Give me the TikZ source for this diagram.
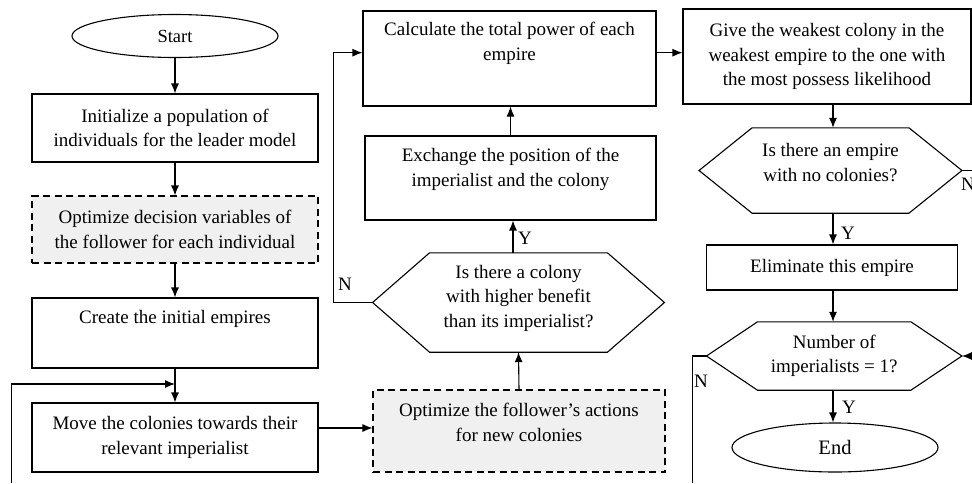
\documentclass[tikz,border=0pt]{standalone}
\usepackage{fontspec}
\setmainfont{Liberation Serif}
\usetikzlibrary{arrows.meta,shapes.geometric}
\newcommand\hexout[2]{\draw[ln] (#1.west) -- ([xshift=#2]#1.north west) -- ([xshift=-#2]#1.north east) -- (#1.east) -- ([xshift=-#2]#1.south east) -- ([xshift=#2]#1.south west) -- cycle;}
\begin{document}
\begin{tikzpicture}[x=1pt,y=-1pt,
  every node/.style={font=\fontsize{19}{24.5}\selectfont, inner sep=0pt},
  ln/.style={line width=1.1pt, draw=black},
  box/.style={ln, draw, rectangle, align=center},
  dbox/.style={box, dash pattern=on 7pt off 4.5pt, fill=black!6},
  txt/.style={align=center},
  oval/.style={ln, draw, ellipse},
  hexb/.style={rectangle, align=center},
  arr/.style={ln, -{Latex[length=10pt,width=8pt]}},
  lab/.style={}
]
\useasboundingbox (0,0) rectangle (972,483);

% left column
\node[oval, minimum width=206pt, minimum height=43pt, font=\fontsize{18.5}{22}\selectfont] (start) at (175,36) {Start};
\node[box, minimum width=286pt, minimum height=68pt] (init) at (175,128) {Initialize a population of\\individuals for the leader model};
\node[dbox, minimum width=286pt, minimum height=67pt] (opt1) at (175,229.5) {Optimize decision variables of\\the follower for each individual};
\node[box, minimum width=286pt, minimum height=70pt] (create) at (175,333) {};
\node[txt] (createt) at (175,319) {Create the initial empires};
\node[box, minimum width=286pt, minimum height=69pt] (move) at (175,437.5) {Move the colonies towards their\\relevant imperialist};

% middle column
\node[dbox, minimum width=292pt, minimum height=82pt] (opt2) at (519,431) {};
\node[txt] (opt2t) at (519,422.5) {Optimize the follower’s actions\\for new colonies};
\node[hexb, minimum width=291.5pt, minimum height=99pt] (q1) at (518.5,302.5) {};
\node[txt] (q1t) at (518.5,298) {Is there a colony\\with higher benefit\\than its imperialist?};
\hexout{q1}{57}
\node[box, minimum width=291pt, minimum height=84pt] (exch) at (510.5,178) {};
\node[txt] (excht) at (510.5,169.5) {Exchange the position of the\\imperialist and the colony};
\node[box, minimum width=293pt, minimum height=95pt] (calc) at (509.5,58.5) {};
\node[txt] (calct) at (509.5,43.5) {Calculate the total power of each\\empire};

% right column
\node[box, minimum width=288pt, minimum height=95pt] (give) at (827,56.5) {Give the weakest colony in the\\weakest empire to the one with\\the most possess likelihood};
\node[hexb, minimum width=262.5pt, minimum height=85pt] (q2) at (830.5,170.5) {};
\node[txt] (q2t) at (830.5,162.5) {Is there an empire\\with no colonies?};
\hexout{q2}{53}
\node[box, minimum width=251.5pt, minimum height=45pt] (elim) at (832,267.5) {Eliminate this empire};
\node[hexb, minimum width=255pt, minimum height=68pt] (q3) at (834.2,356) {Number of\\imperialists = 1?};
\hexout{q3}{51}
\node[oval, minimum width=206pt, minimum height=49pt, font=\fontsize{20.5}{24}\selectfont] (end) at (835,447.5) {End};

% helper coordinates
\coordinate (cR) at (833,0);
\coordinate (loopL) at (11.7,483);
\coordinate (join) at (175,384);
\coordinate (nq1) at (333.3,0);
\coordinate (redge) at (972,0);
\coordinate (nq3) at (692.3,483);

% left connectors
\draw[arr] (start) -- (init);
\draw[arr] (init) -- (opt1);
\draw[arr] (opt1) -- (create);
\draw[arr] (create) -- (move);
\draw[arr] (loopL) |- (join);
\draw[arr] (move.east |- opt2.west) ++(0,-3) coordinate (mvE) -- (mvE -| opt2.west);

% middle connectors
\draw[arr] (opt2.north) -- (q1.south);
\draw[arr] ([xshift=-5.5]q1.north) -- ([xshift=-5.5]q1.north |- exch.south);
\node[lab] (y1) at (525,238) {Y};
\draw[arr] (exch.north) -- (exch.north |- calc.south);
\draw[arr] (q1.west) -- (q1.west -| nq1) |- ([yshift=5.8]calc.west);
\node[lab] (n1) at (345,284) {N};
\draw[arr] ([yshift=5.8]calc.east) -- ([yshift=5.8]calc.east -| give.west);

% right connectors
\draw[arr] (give.south -| cR) -- (q2.north -| cR);
\draw[ln] (q2.east) -- (q2.east -| redge);
\node[lab] (n2) at (968,184) {N};
\draw[arr] (q2.south -| cR) -- (elim.north -| cR);
\node[lab] (y2) at (848,233) {Y};
\draw[arr] (elim.south -| cR) -- (q3.north -| cR);
\draw[arr] (redge |- q3.east) -- (q3.east);
\draw[ln] (q3.west) -- (q3.west -| nq3) -- (nq3);
\node[lab] (n3) at (701,381) {N};
\draw[arr] (q3.south -| cR) -- (end.north -| cR);
\node[lab] (y3) at (849,407) {Y};
\end{tikzpicture}
\end{document}
